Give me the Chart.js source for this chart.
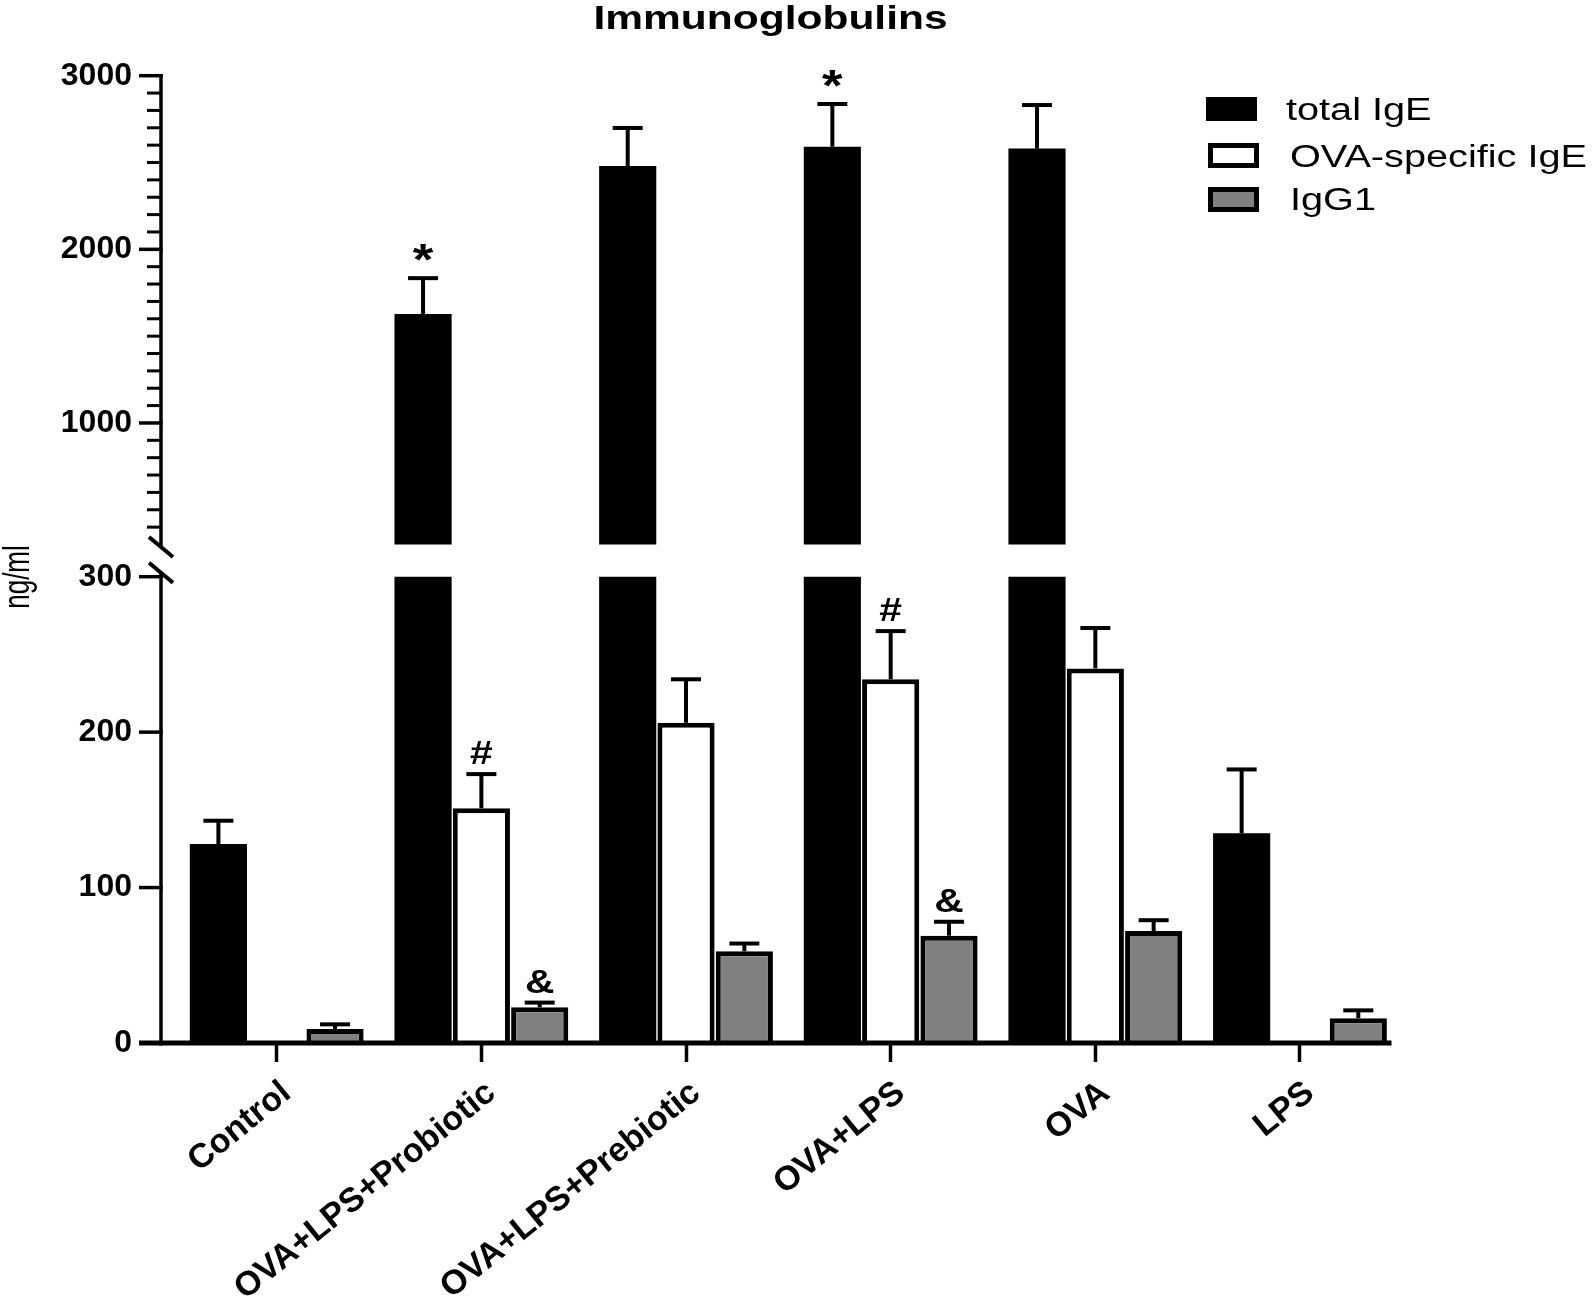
<!DOCTYPE html>
<html>
<head>
<meta charset="utf-8">
<script src="https://cdn.jsdelivr.net/npm/chart.js@4.4.0/dist/chart.umd.min.js"></script>
<style>
html, body { margin: 0; padding: 0; background: #ffffff; }
#wrap { position: relative; width: 1593px; height: 1316px; overflow: hidden; }
#low, #high { position: absolute; left: 0; top: 0; }
</style>
</head>
<body>
<div id="wrap">
  <canvas id="low" width="1593" height="1316"></canvas>
  <canvas id="high" width="1593" height="640"></canvas>
</div>
<script>
// ---------------- data ----------------
const chartTitle = 'Immunoglobulins';
const yAxisTitle = 'ng/ml';
const categories = ['Control', 'OVA+LPS+Probiotic', 'OVA+LPS+Prebiotic', 'OVA+LPS', 'OVA', 'LPS'];
const seriesNames = ['total IgE', 'OVA-specific IgE', 'IgG1'];

const totalIgE    = [128, 1628, 2480, 2591, 2580, 135];
const totalIgEErr = [15, 206, 219, 246, 251, 41];
const ovaIgE      = [0, 151, 206, 234, 241, 0];
const ovaIgEErr   = [0, 22, 28, 31, 26, 0];
const igG1        = [9, 23, 59, 69, 72, 16];
const igG1Err     = [3, 3, 5, 9, 7, 5];

const totalMarks = ['', '*', '', '*', '', ''];
const ovaMarks   = ['', '#', '', '#', '', ''];
const igG1Marks  = ['', '&', '', '&', '', ''];

const lowerRange = [0, 300];
const upperRange = [300, 3000];
const lowerTicks = [0, 100, 200, 300];
const upperTicks = [1000, 2000, 3000];
const upperMinorStep = 100;

// ---------------- styling ----------------
const FONT = "'Liberation Sans', Arial, Helvetica, sans-serif";
const W = 1593;
const AXIS_X = 161;
const Y_AXIS_WIDTH = 174.4;
const RIGHT_PAD = W - 1402.3;
const colors = ['#000000', '#ffffff', '#808080'];
const borders = [0, 5, 5];

function makeDatasets() {
  const vals = [totalIgE, ovaIgE, igG1];
  const errs = [totalIgEErr, ovaIgEErr, igG1Err];
  const marks = [totalMarks, ovaMarks, igG1Marks];
  return seriesNames.map((name, i) => ({
    label: name,
    data: vals[i],
    err: errs[i],
    marks: marks[i],
    backgroundColor: colors[i],
    borderColor: '#000000',
    borderWidth: borders[i],
    borderSkipped: 'start',
    barPercentage: 0.98,
    categoryPercentage: 0.855,
    clip: 0
  }));
}

function stretchedText(ctx, text, x, y, sx, align) {
  ctx.save();
  ctx.translate(x, y);
  ctx.scale(sx, 1);
  ctx.textAlign = align;
  ctx.fillText(text, 0, 0);
  ctx.restore();
}

// error bars and significance marks
const errorBarPlugin = {
  id: 'errorBars',
  afterDatasetsDraw(chart) {
    const ctx = chart.ctx;
    const ys = chart.scales.y;
    const min = ys.min, max = ys.max;
    ctx.save();
    ctx.strokeStyle = '#000';
    ctx.fillStyle = '#000';
    ctx.lineWidth = 4;
    ctx.lineCap = 'butt';
    chart.data.datasets.forEach((ds, i) => {
      const meta = chart.getDatasetMeta(i);
      meta.data.forEach((bar, j) => {
        const v = ds.data[j], e = ds.err[j];
        if (!e) return;
        const top = v + e;
        if (top < min || top > max) return;
        const x = bar.x;
        const y0 = ys.getPixelForValue(Math.max(v, min));
        const y1 = ys.getPixelForValue(top);
        ctx.beginPath(); ctx.moveTo(x, y0); ctx.lineTo(x, y1); ctx.stroke();
        ctx.beginPath(); ctx.moveTo(x - 15, y1); ctx.lineTo(x + 15, y1); ctx.stroke();
        const m = ds.marks[j];
        if (m) {
          ctx.textBaseline = 'alphabetic';
          if (m === '*') {
            ctx.font = 'bold 44px ' + FONT;
            stretchedText(ctx, m, x, y1 - 3, 1.2, 'center');
          } else {
            ctx.font = 'bold 34px ' + FONT;
            stretchedText(ctx, m, x, y1 - 10, 1.2, 'center');
          }
        }
      });
    });
    ctx.restore();
  }
};

// y axis line, ticks, break marks, x axis line, y title
const axisPlugin = {
  id: 'axisDeco',
  afterDraw(chart, args, opts) {
    const ctx = chart.ctx;
    const ys = chart.scales.y;
    ctx.save();
    ctx.strokeStyle = '#000';
    ctx.lineCap = 'butt';
    ctx.lineWidth = 3.5;
    ctx.beginPath();
    ctx.moveTo(AXIS_X, ys.getPixelForValue(ys.max) + opts.lineTopExt);
    ctx.lineTo(AXIS_X, ys.getPixelForValue(ys.min) + opts.lineBottomExt);
    ctx.stroke();
    opts.major.forEach(v => {
      const y = ys.getPixelForValue(v);
      ctx.beginPath(); ctx.moveTo(AXIS_X - 22, y); ctx.lineTo(AXIS_X + 1.75, y); ctx.stroke();
    });
    ctx.lineWidth = 3;
    opts.minor.forEach(v => {
      const y = ys.getPixelForValue(v);
      ctx.beginPath(); ctx.moveTo(AXIS_X - 14, y); ctx.lineTo(AXIS_X, y); ctx.stroke();
    });
    ctx.lineWidth = 4;
    const by = opts.breakAt === 'bottom' ? ys.getPixelForValue(ys.min) + 2.5 : ys.getPixelForValue(ys.max) - 4;
    ctx.beginPath(); ctx.moveTo(AXIS_X - 12, by - 10); ctx.lineTo(AXIS_X + 12, by + 10); ctx.stroke();
    if (opts.xAxis) {
      const y0 = ys.getPixelForValue(0);
      ctx.lineWidth = 5;
      ctx.beginPath(); ctx.moveTo(AXIS_X - 22, y0); ctx.lineTo(1391.5, y0); ctx.stroke();
    }
    if (opts.yTitle) {
      ctx.fillStyle = '#000';
      ctx.font = '26px ' + FONT;
      ctx.textAlign = 'center';
      ctx.textBaseline = 'alphabetic';
      ctx.translate(29, 577);
      ctx.scale(1.4, 1);
      ctx.rotate(-Math.PI / 2);
      ctx.fillText(yAxisTitle, 0, 0);
    }
    ctx.restore();
  }
};

// title and legend (drawn on the upper chart)
const titleLegendPlugin = {
  id: 'titleLegend',
  afterDraw(chart) {
    const ctx = chart.ctx;
    ctx.save();
    ctx.fillStyle = '#000';
    ctx.font = 'bold 34px ' + FONT;
    ctx.textBaseline = 'alphabetic';
    stretchedText(ctx, chartTitle, 770.5, 29, 1.25, 'center');
    const rows = [
      { box: [1206, 97, 51, 24], tx: 1286, ty: 119.5 },
      { box: [1208, 143, 51, 25], tx: 1290, ty: 166.5 },
      { box: [1208, 187, 51, 25], tx: 1290, ty: 210 }
    ];
    chart.data.datasets.forEach((ds, i) => {
      const r = rows[i];
      const [bx, by, bw, bh] = r.box;
      ctx.fillStyle = '#000';
      ctx.fillRect(bx, by, bw, bh);
      if (ds.borderWidth > 0) {
        ctx.fillStyle = ds.backgroundColor;
        ctx.fillRect(bx + ds.borderWidth, by + ds.borderWidth, bw - 2 * ds.borderWidth, bh - 2 * ds.borderWidth);
      }
      ctx.fillStyle = '#000';
      ctx.font = '31px ' + FONT;
      stretchedText(ctx, ds.label, r.tx, r.ty, 1.28, 'left');
    });
    ctx.restore();
  }
};

const upperMinor = [];
for (let v = upperRange[0] + upperMinorStep; v < upperRange[1]; v += upperMinorStep) {
  if (!upperTicks.includes(v)) upperMinor.push(v);
}

const yTickFont = { family: FONT, size: 32, weight: 'bold' };
const plainTick = v => String(v);

// ---------------- lower chart (0 - 300) ----------------
new Chart(document.getElementById('low'), {
  type: 'bar',
  data: { labels: categories, datasets: makeDatasets() },
  options: {
    responsive: false,
    animation: false,
    devicePixelRatio: 1,
    layout: { padding: { top: 576.7, bottom: 0, left: 0, right: RIGHT_PAD } },
    plugins: {
      legend: { display: false },
      title: { display: false },
      tooltip: { enabled: false },
      axisDeco: { major: lowerTicks, minor: [], lineTopExt: -4, lineBottomExt: 2.5, breakAt: 'top', xAxis: true, yTitle: true }
    },
    scales: {
      x: {
        type: 'category',
        offset: true,
        grid: { display: true, drawOnChartArea: false, drawTicks: true, tickLength: 19, tickWidth: 3.5, tickColor: '#000', offset: false },
        border: { display: false },
        ticks: {
          color: '#000',
          font: { family: FONT, size: 34, weight: 'bold' },
          minRotation: 39,
          maxRotation: 39,
          autoSkip: false,
          padding: 11,
          labelOffset: 10
        },
        afterFit: s => { s.height = 1316 - 1043; }
      },
      y: {
        min: lowerRange[0],
        max: lowerRange[1],
        afterBuildTicks: s => { s.ticks = lowerTicks.map(v => ({ value: v })); },
        grid: { display: false, drawTicks: false },
        border: { display: false },
        ticks: { color: '#000', font: yTickFont, padding: Y_AXIS_WIDTH - 132, callback: plainTick },
        afterFit: s => { s.width = Y_AXIS_WIDTH; }
      }
    }
  },
  plugins: [errorBarPlugin, axisPlugin]
});

// ---------------- upper chart (300 - 3000) ----------------
new Chart(document.getElementById('high'), {
  type: 'bar',
  data: { labels: categories, datasets: makeDatasets() },
  options: {
    responsive: false,
    animation: false,
    devicePixelRatio: 1,
    layout: { padding: { top: 75.7, bottom: 640 - 544.5, left: 0, right: RIGHT_PAD } },
    plugins: {
      legend: { display: false },
      title: { display: false },
      tooltip: { enabled: false },
      axisDeco: { major: upperTicks, minor: upperMinor, lineTopExt: -1.75, lineBottomExt: 2.5, breakAt: 'bottom', xAxis: false, yTitle: false }
    },
    scales: {
      x: { type: 'category', offset: true, display: false },
      y: {
        min: upperRange[0],
        max: upperRange[1],
        afterBuildTicks: s => { s.ticks = upperTicks.map(v => ({ value: v })); },
        grid: { display: false, drawTicks: false },
        border: { display: false },
        ticks: { color: '#000', font: yTickFont, padding: Y_AXIS_WIDTH - 132, callback: plainTick },
        afterFit: s => { s.width = Y_AXIS_WIDTH; }
      }
    }
  },
  plugins: [errorBarPlugin, axisPlugin, titleLegendPlugin]
});
</script>
</body>
</html>
